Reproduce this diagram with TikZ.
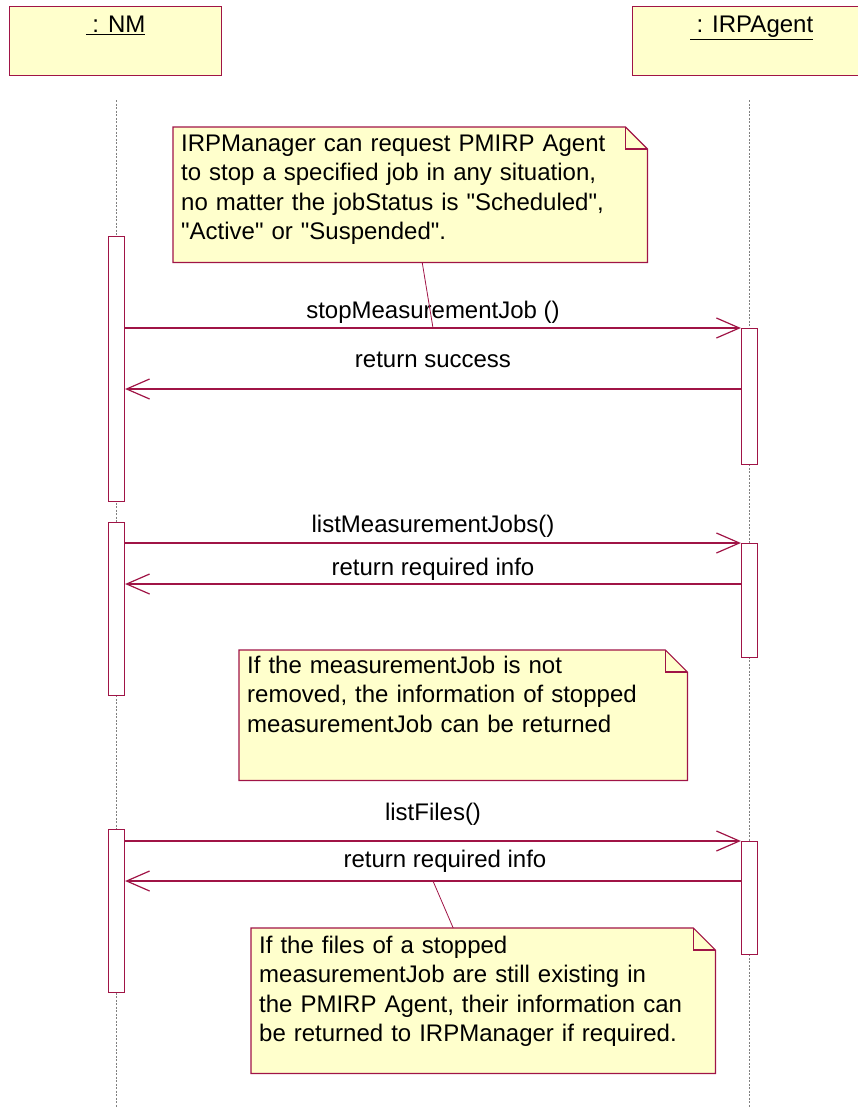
\documentclass[tikz,border=0pt]{standalone}
\usepackage{fontspec}
\setmainfont{Liberation Sans}
\usetikzlibrary{arrows.meta}
\definecolor{umlline}{RGB}{160,20,70}
\definecolor{umlfill}{RGB}{255,255,204}
\tikzset{
  obj/.style={draw=umlline, fill=umlfill, line width=1.2pt, inner sep=0pt},
  objname/.style={anchor=base, inner sep=0pt},
  lifeline/.style={draw=gray, line width=1pt, dash pattern=on 2pt off 1.5pt},
  activation/.style={draw=umlline, fill=white, line width=1.2pt, minimum width=16pt, inner sep=0pt, anchor=north},
  msg/.style={draw=umlline, line width=1.2pt, -{Straight Barb[length=23pt,width=20pt]}},
  msglabel/.style={anchor=base, inner sep=0pt},
  notebox/.style={inner sep=0pt, anchor=north west},
  notetext/.style={anchor=base west, text width=460pt, align=left, inner sep=0pt},
  anchorline/.style={draw=umlline, line width=0.8pt},
}
\newcommand{\dogear}[1]{%
  \filldraw[fill=umlfill, draw=umlline, line width=1.2pt]
    (#1.north west) -- ([xshift=-22pt]#1.north east) -- ([yshift=-22pt]#1.north east)
    -- (#1.south east) -- (#1.south west) -- cycle;
  \draw[umlline, line width=1.2pt] ([xshift=-22pt]#1.north east)
    -- ([xshift=-22pt,yshift=-22pt]#1.north east) -- ([yshift=-22pt]#1.north east);
}
\newcommand{\qt}{\textquotedbl}
\begin{document}
\begin{tikzpicture}[x=1pt, y=-1pt, font=\fontsize{24pt}{29.5pt}\selectfont]
\useasboundingbox (0,0) rectangle (858,1108);

\node (nm) [obj, minimum width=212pt, minimum height=69pt, anchor=north west] at (9,6) {};
\node (agent) [obj, minimum width=236pt, minimum height=69pt, anchor=north west] at (632,6) {};
\node (nmname) [objname] at ([yshift=-27pt]nm.north) {\underline{\ : NM}};
\node (agentname) [objname] at ([yshift=-27pt,xshift=1pt]agent.north) {\underline{\ : IRPAgent}};

\coordinate (nmtop) at (116.5,100);
\coordinate (agenttop) at (749.5,100);
\draw[lifeline] (nmtop) -- (116.5,1108);
\draw[lifeline] (agenttop) -- (749.5,1108);

\node (nmact1) [activation, minimum height=265pt] at (116.5,236) {};
\node (nmact2) [activation, minimum height=173pt] at (116.5,522) {};
\node (nmact3) [activation, minimum height=163pt] at (116.5,829) {};
\node (agentact1) [activation, minimum height=136pt] at (749.5,328) {};
\node (agentact2) [activation, minimum height=114pt] at (749.5,543) {};
\node (agentact3) [activation, minimum height=113pt] at (749.5,841) {};

\draw[msg] (nmact1.east |- agentact1.north) -- node[msglabel, yshift=10pt] {stopMeasurementJob ()} coordinate[pos=0.5] (stopcall) (agentact1.north west);
\draw[msg] (agentact1.west |- 0,389) -- node[msglabel, yshift=22pt] {return success} (nmact1.east |- 0,389);
\draw[msg] (nmact2.east |- agentact2.north) -- node[msglabel, yshift=11pt] {listMeasurementJobs()} (agentact2.north west);
\draw[msg] (agentact2.west |- 0,584) -- node[msglabel, yshift=9pt] {return required info} (nmact2.east |- 0,584);
\draw[msg] (nmact3.east |- agentact3.north) -- node[msglabel, yshift=21pt] {listFiles()} (agentact3.north west);
\draw[msg] (agentact3.west |- 0,881) -- node[msglabel, yshift=14pt, xshift=12pt] {return required info} coordinate[pos=0.5] (filesreturn) (nmact3.east |- 0,881);

\node (note1) [notebox, minimum width=474pt, minimum height=135pt] at (173,127) {};
\dogear{note1}
\node (note1text) [notetext] at ([xshift=8pt,yshift=-24pt]note1.north west) {IRPManager can request PMIRP Agent\\to stop a specified job in any situation,\\no matter the jobStatus is \qt Scheduled\qt,\\\qt Active\qt{} or \qt Suspended\qt.};
\draw[anchorline] ([xshift=12pt]note1.south) -- (stopcall);

\node (note2) [notebox, minimum width=448pt, minimum height=130pt] at (239,650) {};
\dogear{note2}
\node (note2text) [notetext] at ([xshift=8pt,yshift=-23pt]note2.north west) {If the measurementJob is not\\removed, the information of stopped\\measurementJob can be returned};

\node (note3) [notebox, minimum width=464pt, minimum height=145pt] at (251,928) {};
\dogear{note3}
\node (note3text) [notetext] at ([xshift=8pt,yshift=-25pt]note3.north west) {If the files of a stopped\\measurementJob are still existing in\\the PMIRP Agent, their information can\\be returned to IRPManager if required.};
\draw[anchorline] ([xshift=-30pt]note3.north) -- (filesreturn);
\end{tikzpicture}
\end{document}
